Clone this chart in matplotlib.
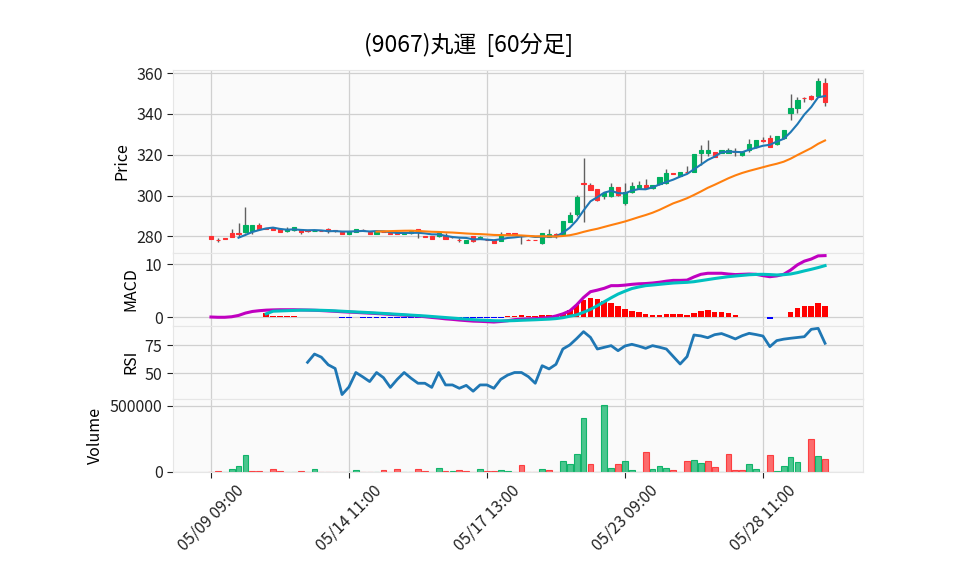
import matplotlib
matplotlib.use("Agg")
import matplotlib.pyplot as plt
from matplotlib.colors import to_rgba
import numpy as np

plt.rcParams['font.family'] = ['Noto Sans CJK JP', 'DejaVu Sans']

title = "(9067)丸運  [60分足]"
tick_pos = [0, 20, 40, 60, 80]
tick_labels = ["05/09 09:00", "05/14 11:00", "05/17 13:00", "05/23 09:00", "05/28 11:00"]

opens = [280.1, 278.4, 279.1, 281.6, 281.5, 282.3, 282.6, 285.5, 283.9, 283.9,
         283.4, 282.4, 283.3, 283.3, 283.1, 282.6, 282.7, 283.6, 283.2, 282.3,
         281.3, 282.3, 283.3, 282.0, 281.3, 282.2, 281.9, 281.9, 281.4, 281.5,
         283.6, 280.1, 280.1, 280.0, 280.1, 279.6, 278.4, 276.9, 280.0, 279.4,
         278.4, 278.0, 277.9, 281.5, 281.5, 280.3, 278.4, 278.3, 276.9, 279.8,
         281.4, 281.1, 287.2, 290.9, 306.2, 305.1, 303.0, 299.9, 299.9, 304.0,
         296.2, 301.9, 303.5, 305.0, 303.5, 305.6, 306.0, 311.0, 309.7, 311.6,
         311.7, 321.0, 321.0, 321.2, 321.0, 321.0, 321.7, 319.9, 322.3, 323.6,
         327.1, 328.3, 325.1, 328.0, 340.6, 342.7, 347.8, 348.8, 348.9, 355.0]
highs = [280.2, 279.0, 279.2, 283.6, 286.4, 294.2, 285.8, 286.5, 284.0, 284.0,
         283.5, 284.6, 284.5, 283.4, 283.2, 282.9, 282.9, 284.3, 283.3, 282.4,
         282.7, 283.7, 283.5, 282.1, 282.4, 282.3, 282.0, 282.0, 281.6, 282.5,
         283.8, 280.2, 280.2, 281.9, 281.5, 280.2, 279.3, 278.3, 280.1, 280.0,
         278.5, 278.1, 282.3, 281.6, 281.6, 280.6, 278.5, 278.4, 281.8, 283.4,
         281.6, 287.7, 292.1, 300.2, 318.2, 306.3, 303.2, 301.6, 306.0, 304.3,
         306.0, 306.8, 307.3, 307.9, 305.3, 309.2, 313.0, 311.1, 311.8, 314.5,
         320.6, 324.7, 327.0, 321.3, 322.4, 323.3, 323.1, 321.7, 327.5, 327.3,
         328.8, 329.9, 329.4, 332.3, 349.6, 348.5, 348.5, 349.3, 357.8, 357.8]
lows = [278.7, 277.3, 278.9, 279.5, 279.7, 281.5, 281.4, 283.3, 283.5, 283.2,
        282.2, 282.2, 282.6, 281.3, 282.3, 282.5, 282.5, 281.5, 282.3, 281.2,
        281.2, 282.2, 283.0, 281.2, 281.2, 282.0, 281.3, 281.2, 281.3, 281.4,
        279.0, 279.8, 278.7, 279.8, 278.6, 279.0, 277.2, 276.8, 277.2, 278.8,
        278.1, 276.8, 277.5, 280.9, 280.9, 276.1, 278.1, 278.0, 276.5, 279.7,
        279.0, 281.0, 287.0, 290.0, 287.2, 302.5, 297.5, 298.1, 299.5, 299.8,
        295.5, 301.1, 303.3, 303.3, 303.3, 305.4, 305.8, 310.7, 309.5, 310.9,
        311.5, 314.9, 319.4, 318.8, 320.8, 320.8, 319.4, 319.2, 321.5, 323.3,
        326.4, 323.7, 324.9, 327.8, 337.0, 340.3, 346.0, 346.8, 348.5, 343.7]
closes = [278.8, 278.2, 278.9, 279.6, 281.3, 285.5, 285.4, 283.6, 283.6, 283.3,
          282.3, 283.6, 284.4, 282.3, 282.4, 282.7, 282.6, 282.5, 282.4, 281.3,
          282.6, 283.6, 283.2, 281.3, 282.3, 282.1, 281.4, 281.3, 281.5, 282.4,
          282.3, 279.9, 278.8, 281.5, 278.8, 279.5, 278.3, 278.2, 277.9, 279.5,
          278.2, 276.9, 280.5, 281.0, 281.0, 280.2, 278.2, 278.1, 281.7, 281.4,
          280.3, 287.5, 290.4, 299.4, 305.9, 302.7, 297.8, 301.4, 304.0, 300.2,
          301.9, 304.8, 305.0, 303.5, 305.0, 308.9, 310.9, 310.8, 311.6, 311.5,
          320.3, 322.5, 322.2, 319.0, 322.2, 322.1, 321.6, 321.5, 325.2, 327.0,
          326.9, 323.9, 329.2, 332.1, 343.1, 346.8, 347.6, 347.5, 356.1, 346.0]
volumes = [3000, 5000, 0, 25000, 43000, 132000, 10000, 5000, 0, 25000,
           5000, 3000, 3000, 10000, 0, 20000, 3000, 3000, 3000, 3000,
           0, 13000, 3000, 3000, 3000, 13000, 0, 20000, 3000, 3000,
           20000, 5000, 0, 28000, 5000, 5000, 13000, 5000, 0, 20000,
           5000, 5000, 13000, 5000, 0, 51000, 3000, 3000, 26000, 12000,
           0, 84000, 58000, 135000, 406000, 58000, 0, 507000, 33000, 58000,
           81000, 12000, 0, 148000, 20000, 48000, 33000, 15000, 0, 81000,
           94000, 66000, 86000, 41000, 0, 140000, 12000, 15000, 58000, 26000,
           0, 125000, 8000, 43000, 114000, 74000, 0, 247000, 119000, 102000]

ma5 = [279.36, 280.70, 282.16, 283.10, 283.90, 284.30, 283.66, 283.28, 283.44, 283.18,
       283.00, 283.08, 282.92, 282.54, 282.60, 282.38, 282.36, 282.52, 282.66, 282.40,
       282.60, 282.50, 282.04, 281.66, 281.70, 281.72, 281.76, 281.48, 280.98, 280.98,
       280.26, 279.70, 279.36, 279.24, 278.52, 278.66, 278.40, 278.14, 278.60, 279.22,
       279.52, 279.92, 280.18, 279.72, 279.82, 279.92, 279.94, 281.80, 284.24, 287.82,
       292.70, 297.18, 299.24, 301.44, 302.36, 301.22, 301.06, 302.46, 303.18, 303.08,
       304.04, 305.44, 306.66, 307.82, 309.30, 310.60, 312.88, 315.16, 317.46, 319.08,
       321.22, 321.58, 321.42, 321.26, 322.50, 323.46, 324.42, 324.90, 326.44, 327.82,
       331.04, 335.02, 339.74, 343.40, 348.20, 348.78]
ma25 = [282.33, 282.46, 282.58, 282.68, 282.76, 282.80, 282.67, 282.45, 282.26, 282.17,
        281.99, 281.88, 281.66, 281.42, 281.24, 281.12, 280.94, 280.71, 280.63, 280.56,
        280.55, 280.46, 280.24, 280.04, 280.05, 280.02, 279.94, 280.19, 280.56, 281.27,
        282.21, 283.03, 283.74, 284.65, 285.55, 286.40, 287.30, 288.36, 289.44, 290.46,
        291.6, 293.0, 294.6, 296.2, 297.4, 298.7, 300.3, 302.0, 303.8, 305.3,
        306.9, 308.5, 309.9, 311.1, 312.1, 313.0, 313.9, 314.8, 315.6, 316.6,
        318.07, 319.87, 321.58, 323.28, 325.38, 327.02]

macd = [0.0, -0.05, -0.05, 0.05, 0.3, 0.75, 1.05, 1.2, 1.3, 1.35,
        1.38, 1.38, 1.38, 1.35, 1.32, 1.28, 1.22, 1.15, 1.08, 1.0,
        0.93, 0.87, 0.8, 0.73, 0.66, 0.58, 0.5, 0.42, 0.34, 0.26,
        0.18, 0.06, -0.08, -0.2, -0.35, -0.45, -0.58, -0.68, -0.78, -0.82,
        -0.88, -0.95, -0.85, -0.7, -0.5, -0.4, -0.35, -0.3, -0.2, -0.1,
        0.2, 0.6, 1.15, 2.3, 3.7, 4.8, 5.1, 5.45, 5.95, 5.95,
        6.05, 6.2, 6.3, 6.35, 6.45, 6.6, 6.8, 6.95, 6.95, 7.0,
        7.6, 8.1, 8.3, 8.3, 8.3, 8.15, 8.05, 8.1, 8.15, 8.1,
        7.85, 7.65, 7.8, 8.1, 8.9, 9.9, 10.6, 11.0, 11.6, 11.65]
signal = [0.6, 1.1, 1.15, 1.2, 1.25, 1.3, 1.3, 1.29, 1.27, 1.23,
          1.17, 1.1, 1.03, 0.96, 0.9, 0.83, 0.76, 0.68, 0.6, 0.52,
          0.44, 0.36, 0.28, 0.2, 0.1, 0.0, -0.1, -0.2, -0.3, -0.4,
          -0.5, -0.58, -0.64, -0.7, -0.72, -0.72, -0.68, -0.62, -0.57, -0.52,
          -0.46, -0.4, -0.3, -0.13, 0.15, 0.4, 0.9, 1.45, 2.15, 2.9,
          3.65, 4.35, 4.9, 5.4, 5.7, 5.95, 6.07, 6.2, 6.33, 6.45,
          6.52, 6.58, 6.7, 6.9, 7.1, 7.3, 7.48, 7.65, 7.78, 7.9,
          8.02, 8.08, 8.1, 8.05, 7.98, 8.03, 8.16, 8.42, 8.75, 9.05,
          9.38, 9.75]
hist = [0.7, 0.25, 0.23, 0.2, 0.15, 0.05, 0.02, -0.01, -0.05, -0.08,
        -0.09, -0.1, -0.1, -0.09, -0.1, -0.1, -0.1, -0.1, -0.1, -0.1,
        -0.1, -0.1, -0.1, -0.14, -0.18, -0.2, -0.25, -0.25, -0.28, -0.28,
        -0.28, -0.24, -0.24, -0.25, -0.13, 0.2, 0.25, 0.35, 0.2, 0.2,
        0.35, 0.3, 0.45, 0.7, 1.3, 2.2, 3.3, 3.65, 3.35, 3.05,
        2.7, 2.15, 1.5, 1.15, 0.95, 0.55, 0.38, 0.38, 0.55, 0.55,
        0.55, 0.4, 0.75, 1.15, 1.3, 0.95, 0.95, 0.8, 0.3, 0.03,
        0.02, 0.02, 0.0, -0.3, -0.06, 0.05, 0.95, 1.75, 2.1, 2.1,
        2.7, 2.1]
rsi = [59.8, 67.2, 64.4, 57.6, 54.3, 31.0, 37.8, 50.7, 46.8, 42.6,
       50.7, 46.1, 37.4, 44.6, 50.7, 45.6, 41.1, 41.1, 37.4, 50.7,
       39.6, 39.6, 36.6, 39.2, 34.0, 39.6, 39.6, 36.6, 44.6, 48.4,
       50.7, 50.7, 47.0, 41.1, 56.8, 53.9, 58.0, 71.7, 75.3, 81.0,
       87.2, 82.1, 71.7, 73.2, 74.7, 70.2, 74.4, 75.9, 74.3, 72.3,
       74.7, 73.3, 71.7, 65.0, 58.3, 64.9, 84.2, 83.4, 81.8, 84.5,
       85.5, 83.2, 80.7, 83.6, 85.7, 84.6, 83.3, 73.8, 79.2, 80.5,
       81.3, 82.0, 82.7, 89.3, 90.2, 76.8]

# ---------------------------------------------------------------- styling
UP, DOWN, WICK = '#00b060', '#fe3032', '#606060'
FACE, GRID, EDGE = '#fafafa', '#d0d0d0', '#e6e6e6'
FS = 11.5

n = len(closes)
x = np.arange(n)
o = np.array(opens); c = np.array(closes); h = np.array(highs); l = np.array(lows)

fig = plt.figure(figsize=(9.58, 5.75), dpi=100)
L, W = 173 / 958, 690 / 958
def pos(top_px, bot_px):
    return [L, 1 - bot_px / 575, W, (bot_px - top_px) / 575]

ax_p = fig.add_axes(pos(69.5, 252.5))
ax_m = fig.add_axes(pos(252.5, 325.5), sharex=ax_p)
ax_r = fig.add_axes(pos(325.5, 398.7), sharex=ax_p)
ax_v = fig.add_axes(pos(398.7, 472.0), sharex=ax_p)

for ax in (ax_p, ax_m, ax_r, ax_v):
    ax.set_facecolor(FACE)
    ax.set_axisbelow(True)
    ax.grid(True, color=GRID, linewidth=0.9)
    for s in ax.spines.values():
        s.set_color(EDGE)
    ax.tick_params(axis='y', labelsize=FS, length=4, width=0.8, colors='#222222')
    ax.tick_params(axis='x', length=4, width=0.8, colors='#222222')

# price panel
up = c >= o
cols = np.where(up, UP, DOWN)
ax_p.vlines(x, l, h, color=WICK, linewidth=1.0, zorder=2)
body_h = np.maximum(np.abs(c - o), 0.05)
ax_p.bar(x, body_h, bottom=np.minimum(o, c), width=0.62, color=cols,
         edgecolor=cols, linewidth=0.8, zorder=3)
ax_p.plot(x[4:], ma5, color='#1f77b4', linewidth=1.5, zorder=4)
ax_p.plot(x[24:], ma25, color='#ff7f0e', linewidth=1.5, zorder=4)
ax_p.set_ylim(272.1, 361.8)
ax_p.set_yticks([280, 300, 320, 340, 360])
ax_p.set_ylabel('Price', fontsize=FS)

# MACD panel
hv = np.array(hist)
ax_m.bar(x[8:], hv, width=0.8, color=np.where(hv >= 0, '#ff0000', '#0000ff'), zorder=2)
ax_m.plot(x, macd, color='#c000c0', linewidth=2.2, zorder=3)
ax_m.plot(x[8:], signal, color='#00c0c0', linewidth=2.2, zorder=3)
ax_m.set_ylim(-1.61, 12.24)
ax_m.set_yticks([0, 10])
ax_m.set_ylabel('MACD', fontsize=FS)

# RSI panel
ax_r.plot(x[14:], rsi, color='#1f77b4', linewidth=2.0)
ax_r.set_ylim(27.3, 92.7)
ax_r.set_yticks([50, 75])
ax_r.set_ylabel('RSI', fontsize=FS)

# Volume panel
prev = np.concatenate([[c[0] + 1], c[:-1]])
vup = c > prev
vface = [to_rgba(UP if u else DOWN, 0.7) for u in vup]
vedge = [to_rgba(UP if u else DOWN, 0.9) for u in vup]
ax_v.bar(x, volumes, width=0.85, color=vface, edgecolor=vedge, linewidth=0.8, zorder=2)
ax_v.set_ylim(0, 555000)
ax_v.set_yticks([0, 500000])
ax_v.set_yticklabels(['0', '500000'])
ax_v.set_ylabel('Volume', fontsize=FS)

ax_p.set_xlim(-5.5, 94.5)
ax_v.set_xticks(tick_pos)
ax_v.set_xticklabels(tick_labels, rotation=45, ha='center', fontsize=FS)
for ax in (ax_p, ax_m, ax_r):
    ax.tick_params(axis='x', labelbottom=False, length=0)

fig.suptitle(title, x=0.489, y=0.942, fontsize=16.5)

fig.savefig('out.png', dpi=100, facecolor='white')
